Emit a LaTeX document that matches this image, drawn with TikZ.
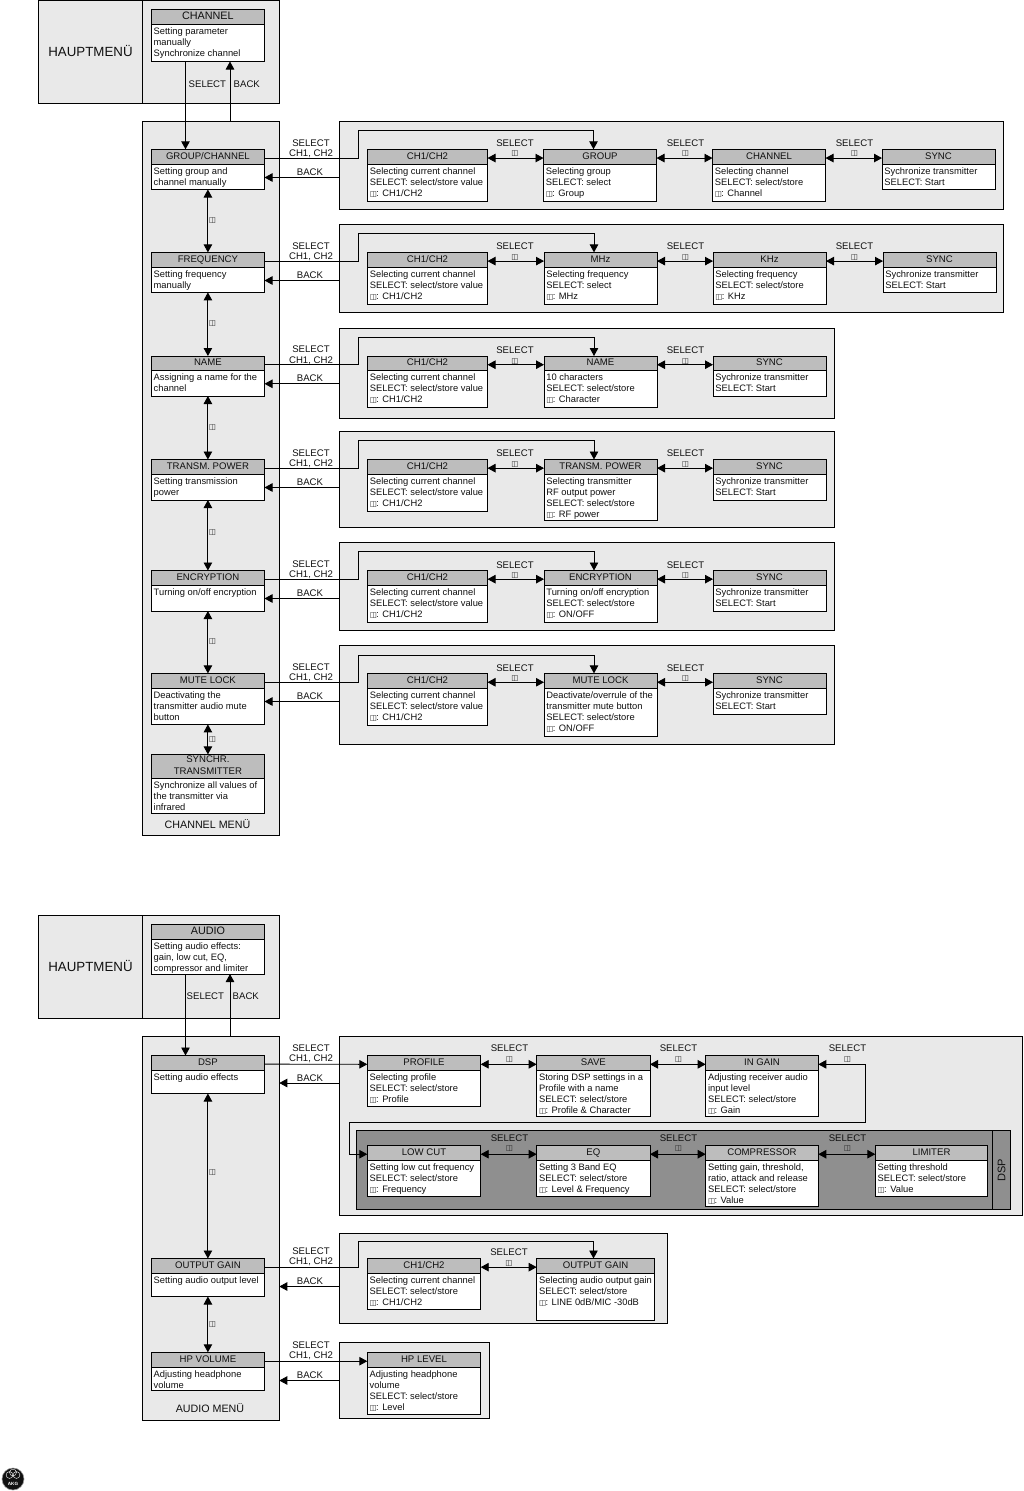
\documentclass[tikz,border=0pt]{standalone}
\usepackage{fontspec}
\setmainfont{Liberation Sans}
\newfontfamily\iconf{DejaVu Sans}
\usetikzlibrary{arrows.meta}
\definecolor{panelgray}{HTML}{E9E9E9}
\definecolor{headgray}{HTML}{BDBDBD}
\definecolor{darkpanel}{HTML}{8F8F8F}
\definecolor{inkc}{HTML}{101010}
\newcommand\kn{{\iconf\fontsize{7.5}{7.5}\selectfont\textcolor{black!85}{◫}}}
\newcommand\knb{\kn\kern-0.6pt}
\newcommand\bigt{\fontsize{10.8}{11}\selectfont}
\tikzset{
  x=1pt,y=-1pt,
  panelbox/.style={draw=black,fill=panelgray,line width=0.9pt,inner sep=0pt,outer sep=0pt,anchor=north west},
  darkbox/.style={panelbox,fill=darkpanel},
  bodybox/.style={draw=black,fill=white,line width=0.9pt,inner sep=0pt,outer sep=0pt,anchor=north west},
  headbox/.style={draw=black,fill=headgray,line width=0.9pt,inner sep=0pt,outer sep=0pt,anchor=north west,align=center,text=inkc,text depth=2pt,font=\fontsize{9.6}{12.5}\selectfont},
  bodytext/.style={anchor=north west,align=left,inner xsep=2.2pt,inner ysep=3.1pt,text=inkc,font=\fontsize{9.35}{11}\selectfont},
  lab/.style={inner sep=0pt,yshift=-0.5pt,text=inkc,font=\fontsize{9.6}{11}\selectfont},
  paneltitle/.style={inner sep=0pt,text=inkc,font=\fontsize{10.7}{12}\selectfont},
  conn/.style={draw=black,line width=0.9pt},
  tipe/.style={conn,-{Triangle[length=8pt,width=8.5pt]}},
  tipd/.style={conn,{Triangle[length=8pt,width=8.5pt]}-{Triangle[length=8pt,width=8.5pt]}},
}
% panel: name x1 x2 y1 y2
\newcommand\pnl[6][panelbox]{\node[#1,minimum width={(#4-#3)*1pt},minimum height={(#6-#5)*1pt}] (#2) at (#3,#5) {};}
% box: name x1 x2 y1 yhead y2 title body
\newcommand\mbx[8]{%
  \node[bodybox,minimum width={(#3-#2)*1pt},minimum height={(#6-#5)*1pt}] (#1-b) at (#2,#5) {};
  \node[headbox,minimum width={(#3-#2)*1pt},minimum height={(#5-#4)*1pt}] (#1-h) at (#2,#4) {#7};
  \node[bodytext] (#1-t) at (#2,#5) {#8};
}
% SELECT label with the knob icon under it
\newcommand\slab[3]{%
  \node[lab] (#1) at (#2,#3) {SELECT};
  \node[lab] (#1-k) at (#2,#3+11) {\kn};
}
% link between main-menu box and its panel: left, first box, target, panel, xshift at target, y of rail, back y
\newcommand\lnk[7]{%
  \coordinate (#1-o) at ([yshift=-1.4pt]#1-h.east);
  \coordinate (#1-r) at (358.5,#6);
  \draw[tipe] (#1-o) -| (#1-r) -| ([xshift=#5pt]#3-h.north);
  \coordinate (#1-p) at (#4.west |- 0,#7);
  \coordinate (#1-q) at (#1-b.east |- 0,#7);
  \draw[tipe] (#1-p) -- (#1-q);
  \node[lab] (#1-s1) at (311,#7-35) {SELECT};
  \node[lab] (#1-s2) at (311,#7-24) {CH1, CH2};
  \node[lab] (#1-s3) at (310,#7-6) {BACK};
}
\newcommand\dlnk[2]{\draw[tipd] ([yshift=-1.4pt]#1-h.east) -- ([yshift=-1.4pt]#2-h.west);}
\newcommand\vlnk[4]{%
  \draw[tipd] (#1-b.south) -- (#2-h.north);
  \node[lab] (#1-i) at (212.5,#3) {\kn};
}
\begin{document}
\begin{tikzpicture}
\useasboundingbox (0,0) rectangle (1023,1491);
% ---------- top part: panels
\pnl{hm1}{38.5}{142.3}{0.4}{103.3}
\pnl{hm1b}{142.3}{279.3}{0.4}{103.3}
\node[inner sep=0pt,text=inkc,font=\fontsize{13.3}{14}\selectfont] (hm1t) at (90.5,51) {HAUPTMENÜ};
\pnl{cm}{142.3}{279.3}{121.5}{835}
\node[paneltitle] (cmt) at (207.5,824.5) {CHANNEL MENÜ};
\pnl{p1}{339.5}{1003.5}{121.5}{209.4}
\pnl{p2}{339.5}{1003.5}{224.3}{312.4}
\pnl{p3}{339.5}{834.5}{328.5}{418.5}
\pnl{p4}{339.5}{834.5}{431.5}{527.5}
\pnl{p5}{339.5}{834.5}{542.5}{630.5}
\pnl{p6}{339.5}{834.5}{645}{744.4}
% main menu column
\mbx{chan}{151.3}{264.5}{9.5}{24.5}{61.5}{\bigt CHANNEL}{Setting parameter\\manually\\Synchronize channel}
\mbx{gc}{151.3}{264.5}{149.3}{164}{189.5}{GROUP/CHANNEL}{Setting group and\\channel manually}
\mbx{fr}{151.3}{264.5}{252.4}{267}{292.4}{FREQUENCY}{Setting frequency\\manually}
\mbx{na}{151.3}{264.5}{356}{370.6}{396}{NAME}{Assigning a name for the\\channel}
\mbx{tp}{151.3}{264.5}{459.5}{474}{500}{TRANSM. POWER}{Setting transmission\\power}
\mbx{en}{151.3}{264.5}{570.5}{585}{611}{ENCRYPTION}{Turning on/off encryption}
\mbx{ml}{151.3}{264.5}{673.4}{688.3}{724.4}{MUTE LOCK}{Deactivating the\\transmitter audio mute\\button}
\mbx{sy}{151.3}{264.5}{754.4}{778.3}{813.4}{SYNCHR.\\TRANSMITTER}{Synchronize all values of\\the transmitter via\\infrared}
% row 1
\mbx{a1}{367.5}{487.5}{149.3}{164}{201.5}{CH1/CH2}{Selecting current channel\\SELECT: select/store value\\\knb: CH1/CH2}
\mbx{a2}{543.5}{656.5}{149.3}{164}{201.5}{GROUP}{Selecting group\\SELECT: select\\\knb: Group}
\mbx{a3}{712.5}{825.5}{149.3}{164}{201.5}{CHANNEL}{Selecting channel\\SELECT: select/store\\\knb: Channel}
\mbx{a4}{882}{995}{149.3}{164}{189.5}{SYNC}{Sychronize transmitter\\SELECT: Start}
% row 2
\mbx{b1}{367.5}{487.5}{252.4}{267}{304.4}{CH1/CH2}{Selecting current channel\\SELECT: select/store value\\\knb: CH1/CH2}
\mbx{b2}{544}{657}{252.4}{267}{304.4}{MHz}{Selecting frequency\\SELECT: select\\\knb: MHz}
\mbx{b3}{713}{826}{252.4}{267}{304.4}{KHz}{Selecting frequency\\SELECT: select/store\\\knb: KHz}
\mbx{b4}{883}{996}{252.4}{267}{292.4}{SYNC}{Sychronize transmitter\\SELECT: Start}
% row 3
\mbx{c1}{367.5}{487.5}{356}{370.6}{407.5}{CH1/CH2}{Selecting current channel\\SELECT: select/store value\\\knb: CH1/CH2}
\mbx{c2}{544}{657}{356}{370.6}{407.5}{NAME}{10 characters\\SELECT: select/store\\\knb: Character}
\mbx{c3}{713}{826}{356}{370.6}{396}{SYNC}{Sychronize transmitter\\SELECT: Start}
% row 4
\mbx{d1}{367.5}{487.5}{459.5}{474}{511.5}{CH1/CH2}{Selecting current channel\\SELECT: select/store value\\\knb: CH1/CH2}
\mbx{d2}{544}{657}{459.5}{474}{520.5}{TRANSM. POWER}{Selecting transmitter\\RF output power\\SELECT: select/store\\\knb: RF power}
\mbx{d3}{713}{826}{459.5}{474}{500}{SYNC}{Sychronize transmitter\\SELECT: Start}
% row 5
\mbx{e1}{367.5}{487.5}{570.5}{585}{622.5}{CH1/CH2}{Selecting current channel\\SELECT: select/store value\\\knb: CH1/CH2}
\mbx{e2}{544}{657}{570.5}{585}{622.5}{ENCRYPTION}{Turning on/off encryption\\SELECT: select/store\\\knb: ON/OFF}
\mbx{e3}{713}{826}{570.5}{585}{611}{SYNC}{Sychronize transmitter\\SELECT: Start}
% row 6
\mbx{f1}{367.5}{487.5}{673.4}{688.3}{725.5}{CH1/CH2}{Selecting current channel\\SELECT: select/store value\\\knb: CH1/CH2}
\mbx{f2}{544}{657}{673.4}{688.3}{736.5}{MUTE LOCK}{Deactivate/overrule of the\\transmitter mute button\\SELECT: select/store\\\knb: ON/OFF}
\mbx{f3}{713}{826}{673.4}{688.3}{714}{SYNC}{Sychronize transmitter\\SELECT: Start}
% ---------- top part: connectors
\draw[tipe] (chan-b.south -| 185.5,0) -- (gc-h.north -| 185.5,0);
\coordinate (cmtop) at (230,121.5);
\draw[tipe] (cmtop) -- (chan-b.south -| 230,0);
\node[lab,anchor=west] (sel1) at (188.5,83.5) {SELECT};
\node[lab,anchor=west] (bk1) at (233.5,83.5) {BACK};
\lnk{gc}{a1}{a2}{p1}{-6.5}{130.5}{177.5}
\lnk{fr}{b1}{b2}{p2}{-6.5}{233.3}{280.5}
\lnk{na}{c1}{c2}{p3}{-6.5}{337}{383.8}
\lnk{tp}{d1}{d2}{p4}{-6.5}{440.5}{487.5}
\lnk{en}{e1}{e2}{p5}{-6.5}{551.5}{598.5}
\lnk{ml}{f1}{f2}{p6}{-6.5}{655}{701.5}
\vlnk{gc}{fr}{220.5}{}
\vlnk{fr}{na}{323}{}
\vlnk{na}{tp}{427}{}
\vlnk{tp}{en}{532.5}{}
\vlnk{en}{ml}{641}{}
\vlnk{ml}{sy}{739.5}{}
\dlnk{a1}{a2}\dlnk{a2}{a3}\dlnk{a3}{a4}
\dlnk{b1}{b2}\dlnk{b2}{b3}\dlnk{b3}{b4}
\dlnk{c1}{c2}\dlnk{c2}{c3}
\dlnk{d1}{d2}\dlnk{d2}{d3}
\dlnk{e1}{e2}\dlnk{e2}{e3}
\dlnk{f1}{f2}\dlnk{f2}{f3}
\slab{sa1}{515}{142.5}\slab{sa2}{685.5}{142.5}\slab{sa3}{854.5}{142.5}
\slab{sb1}{515}{246}\slab{sb2}{685.5}{246}\slab{sb3}{854.5}{246}
\slab{sc1}{515}{350}\slab{sc2}{685.5}{350}
\slab{sd1}{515}{453}\slab{sd2}{685.5}{453}
\slab{se1}{515}{564.5}\slab{se2}{685.5}{564.5}
\slab{sf1}{515}{667.5}\slab{sf2}{685.5}{667.5}
% ---------- bottom part: panels
\pnl{hm2}{38.5}{142.3}{915.5}{1018.5}
\pnl{hm2b}{142.3}{279.3}{915.5}{1018.5}
\node[inner sep=0pt,text=inkc,font=\fontsize{13.3}{14}\selectfont] (hm2t) at (90.5,966) {HAUPTMENÜ};
\pnl{am}{142.3}{279.3}{1036.5}{1420.3}
\node[paneltitle] (amt) at (210,1408) {AUDIO MENÜ};
\pnl{q1}{339.5}{1022.5}{1036.5}{1215.3}
\pnl{q2}{339.5}{667.5}{1233}{1323.5}
\pnl{q3}{339.5}{489.5}{1342.5}{1418.5}
\pnl[darkbox]{dk}{356.7}{992.3}{1130}{1209.3}
\pnl[darkbox]{dks}{992.3}{1010.3}{1130}{1209.3}
\node[inner sep=0pt,text=inkc,rotate=90,font=\fontsize{11}{12}\selectfont] (dkt) at (1001.5,1170) {DSP};
% boxes
\mbx{aud}{151.3}{264.5}{924}{939}{974}{\bigt AUDIO}{Setting audio effects:\\gain, low cut, EQ,\\compressor and limiter}
\mbx{dsp}{151.3}{264.5}{1055.5}{1070}{1093.5}{DSP}{Setting audio effects}
\mbx{og}{151.3}{264.5}{1258.5}{1273}{1296.5}{OUTPUT GAIN}{Setting audio output level}
\mbx{hp}{151.3}{264.5}{1352.3}{1367.3}{1390.3}{HP VOLUME}{Adjusting headphone\\volume}
\mbx{g1}{367.3}{480.7}{1055.3}{1070.5}{1106}{PROFILE}{Selecting profile\\SELECT: select/store\\\knb: Profile}
\mbx{g2}{536.7}{650}{1055.3}{1070.5}{1116.5}{SAVE}{Storing DSP settings in a\\Profile with a name\\SELECT: select/store\\\knb: Profile \& Character}
\mbx{g3}{705.7}{818.3}{1055.3}{1070.5}{1116.5}{IN GAIN}{Adjusting receiver audio\\input level\\SELECT: select/store\\\knb: Gain}
\mbx{h1}{367.3}{480.7}{1145.3}{1160.3}{1196}{LOW CUT}{Setting low cut frequency\\SELECT: select/store\\\knb: Frequency}
\mbx{h2}{536.7}{650}{1145.3}{1160.3}{1196}{EQ}{Setting 3 Band EQ\\SELECT: select/store\\\knb: Level \& Frequency}
\mbx{h3}{705.7}{818.3}{1145.3}{1160.3}{1206.5}{COMPRESSOR}{Setting gain, threshold,\\ratio, attack and release\\SELECT: select/store\\\knb: Value}
\mbx{h4}{875.3}{987.7}{1145.3}{1160.3}{1196}{LIMITER}{Setting threshold\\SELECT: select/store\\\knb: Value}
\mbx{j1}{367.3}{480.7}{1258.5}{1273}{1309}{CH1/CH2}{Selecting current channel\\SELECT: select/store\\\knb: CH1/CH2}
\mbx{j2}{536.7}{654.5}{1258.5}{1273}{1320}{OUTPUT GAIN}{Selecting audio output gain\\SELECT: select/store\\\knb: LINE 0dB/MIC -30dB}
\mbx{k1}{367.3}{480.7}{1352.3}{1367.3}{1414.7}{HP LEVEL}{Adjusting headphone\\volume\\SELECT: select/store\\\knb: Level}
% connectors
\draw[tipe] (aud-b.south -| 185.5,0) -- (dsp-h.north -| 185.5,0);
\coordinate (amtop) at (230,1036.5);
\draw[tipe] (amtop) -- (aud-b.south -| 230,0);
\node[lab,anchor=west] (sel2) at (186.5,995.5) {SELECT};
\node[lab,anchor=west] (bk2) at (232.5,995.5) {BACK};
\draw[tipe] ([yshift=-1.4pt]dsp-h.east) -- ([yshift=-1.4pt]g1-h.west);
\draw[tipe] (q1.west |- 0,1083) -- (am.east |- 0,1083);
\node[lab] (q1s1) at (311,1048) {SELECT};
\node[lab] (q1s2) at (311,1058.5) {CH1, CH2};
\node[lab] (q1s3) at (310,1077.5) {BACK};
\dlnk{g1}{g2}\dlnk{g2}{g3}
\coordinate (wa) at (865.7,1122.3);
\coordinate (wb) at (349.3,1122.3);
\draw[tipe] (wb) -- (wa) -- ([yshift=-1.4pt]g3-h.east -| wa) -- ([yshift=-1.4pt]g3-h.east);
\draw[tipe] (wb) |- ([yshift=-1.4pt]h1-h.west);
\dlnk{h1}{h2}\dlnk{h2}{h3}\dlnk{h3}{h4}
\slab{sg1}{509.5}{1048}\slab{sg2}{678.5}{1048}\slab{sg3}{847.5}{1048}
\slab{sh1}{509.5}{1137.5}\slab{sh2}{678.5}{1137.5}\slab{sh3}{847.5}{1137.5}
% output gain
\coordinate (ogr) at (358.5,1241);
\draw[tipe] ([yshift=-1.4pt]og-h.east) -| (ogr) -| ([xshift=-2.1pt]j2-h.north);
\draw[tipe] (q2.west |- 0,1286.5) -- (am.east |- 0,1286.5);
\node[lab] (q2s1) at (311,1250.5) {SELECT};
\node[lab] (q2s2) at (311,1261.5) {CH1, CH2};
\node[lab] (q2s3) at (310,1280.5) {BACK};
\dlnk{j1}{j2}
\slab{sj1}{509}{1252}
% hp
\draw[tipe] ([yshift=-1.4pt]hp-h.east) -- ([yshift=-1.4pt]k1-h.west);
\draw[tipe] (q3.west |- 0,1380.5) -- (am.east |- 0,1380.5);
\node[lab] (q3s1) at (311,1344.5) {SELECT};
\node[lab] (q3s2) at (311,1355.5) {CH1, CH2};
\node[lab] (q3s3) at (310,1374.5) {BACK};
% vertical
\vlnk{dsp}{og}{1172.5}{}
\vlnk{og}{hp}{1324.5}{}
% logo
\node[circle,fill=inkc,draw=black!40,line width=0.6pt,minimum size=22pt,inner sep=0pt] (logo) at (13,1479) {};
\draw[white,line width=0.4pt] (9.5,1475) circle (3.4pt) (16.5,1475) circle (3.4pt) (13,1472.5) circle (3.4pt);
\node[inner sep=0pt,text=white,font=\bfseries\fontsize{4.6}{5}\selectfont] (logot) at (13,1483.5) {AKG};
\end{tikzpicture}
\end{document}
